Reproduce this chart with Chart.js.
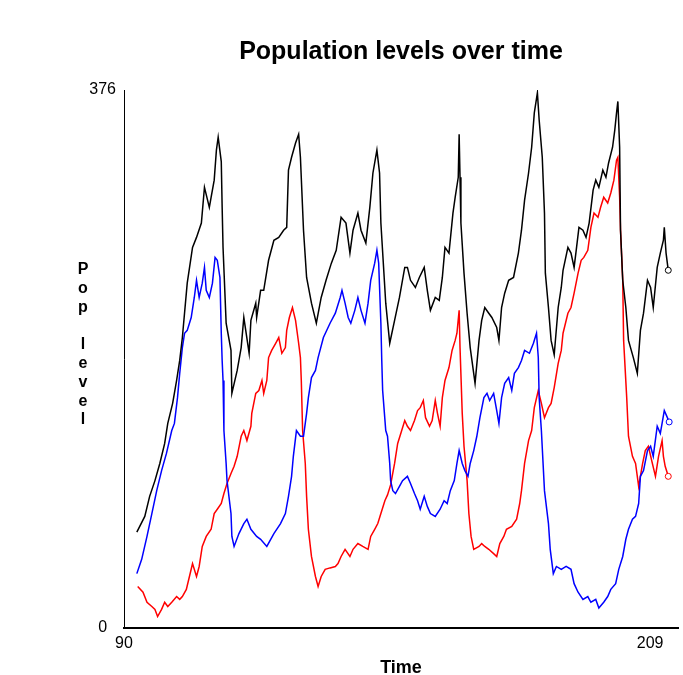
<!DOCTYPE html>
<html>
<head>
<meta charset="utf-8">
<script src="https://cdn.jsdelivr.net/npm/chart.js@4"></script>
<style>
  body { margin: 0; background: #fff; }
  #box { width: 683px; height: 675px; position: relative; }
</style>
</head>
<body>
<div id="box"><canvas id="popChart"></canvas></div>
<script>
// tick labels
const xTicks = [90, 209];
const yTicks = [0, 376];

// series 1 (black)
const blackTime = [92.9, 94.7, 95.8, 97.0, 98.1, 99.2, 99.9, 101.0, 101.9, 102.6, 103.2, 104.3, 105.5, 106.4, 107.5, 108.2, 109.3, 109.7, 110.4, 110.9, 111.3, 112.0, 112.2, 112.4, 113.1, 114.2, 114.4, 115.6, 116.5, 117.1, 118.3, 118.7, 119.8, 120.0, 120.9, 121.6, 122.7, 123.9, 125.0, 126.1, 126.8, 127.2, 127.9, 128.8, 129.5, 129.9, 130.6, 131.3, 132.4, 133.5, 134.6, 135.7, 136.9, 138.0, 139.1, 140.2, 141.1, 141.8, 142.9, 143.6, 144.7, 145.6, 146.3, 147.2, 147.8, 148.1, 149.2, 150.1, 151.2, 152.3, 153.5, 154.1, 154.8, 155.9, 156.8, 157.9, 158.6, 159.3, 160.4, 161.3, 162.0, 162.6, 163.5, 164.4, 164.9, 165.6, 165.8, 166.0, 166.2, 166.9, 167.6, 168.3, 169.4, 170.3, 170.9, 171.6, 172.5, 173.2, 174.3, 174.8, 175.4, 176.1, 177.0, 178.1, 179.2, 179.9, 180.6, 181.5, 182.2, 182.8, 183.5, 183.9, 184.6, 185.1, 185.3, 186.0, 186.6, 187.3, 188.2, 188.9, 189.3, 190.4, 191.1, 191.8, 192.2, 192.9, 193.8, 194.5, 195.2, 196.1, 196.7, 197.4, 198.3, 199.0, 199.6, 200.5, 201.0, 201.4, 201.7, 202.1, 202.3, 202.8, 203.5, 204.1, 205.2, 206.1, 206.8, 207.5, 208.4, 209.1, 209.7, 210.6, 211.3, 212.0, 212.2, 212.6, 213.1];
const blackLevel = [67, 78, 92, 103, 115, 129, 143, 157, 173, 187, 203, 241, 266, 273, 283, 308, 294, 301, 313, 334, 343, 326, 294, 266, 213, 194, 164, 180, 196, 217, 192, 215, 227, 217, 236, 236, 257, 271, 273, 278, 280, 320, 329, 339, 345, 329, 278, 245, 227, 213, 231, 243, 255, 264, 287, 283, 262, 278, 290, 278, 269, 294, 318, 334, 318, 283, 227, 199, 215, 231, 252, 252, 243, 238, 245, 252, 236, 222, 231, 229, 245, 266, 262, 290, 301, 315, 345, 315, 283, 248, 220, 196, 171, 201, 215, 224, 220, 217, 210, 201, 224, 234, 243, 245, 262, 278, 299, 318, 336, 360, 374, 355, 329, 290, 248, 224, 201, 191, 224, 238, 250, 266, 262, 252, 262, 280, 278, 273, 283, 306, 313, 308, 320, 315, 325, 336, 348, 360, 368, 336, 278, 243, 224, 201, 189, 178, 208, 220, 243, 238, 224, 252, 262, 271, 280, 262, 250];

// series 2 (blue)
const blueTime = [92.9, 94.0, 95.2, 96.3, 97.4, 98.5, 99.6, 100.8, 101.4, 102.1, 102.6, 103.2, 103.7, 104.3, 105.2, 105.9, 106.4, 107.0, 107.7, 108.2, 108.6, 109.3, 110.0, 110.6, 111.1, 111.7, 112.0, 112.2, 112.4, 112.6, 113.1, 113.3, 114.2, 114.4, 114.9, 116.0, 117.1, 117.8, 118.7, 120.0, 120.9, 122.3, 123.9, 125.4, 126.5, 127.2, 127.9, 128.3, 129.0, 129.9, 130.6, 131.3, 131.7, 132.4, 133.3, 133.9, 135.1, 136.6, 137.8, 138.9, 139.3, 140.0, 140.7, 141.3, 142.2, 142.9, 143.6, 144.5, 145.2, 145.8, 146.7, 147.2, 147.6, 148.1, 148.3, 148.5, 149.2, 149.6, 150.1, 150.3, 150.8, 151.4, 152.3, 153.0, 154.1, 154.8, 155.7, 156.4, 157.0, 157.9, 158.6, 159.3, 160.4, 161.5, 162.4, 163.1, 163.8, 164.7, 165.3, 165.8, 166.5, 167.1, 167.8, 168.3, 169.1, 169.8, 170.5, 171.4, 172.1, 172.7, 173.6, 174.3, 174.8, 175.4, 176.1, 177.0, 177.7, 178.3, 179.2, 179.9, 180.6, 181.7, 182.6, 183.3, 183.7, 183.9, 184.4, 185.1, 186.0, 186.4, 187.1, 187.8, 188.9, 190.0, 191.1, 191.8, 192.7, 193.8, 194.9, 195.6, 196.7, 197.4, 198.5, 199.4, 200.1, 201.2, 201.9, 202.8, 203.5, 204.1, 205.0, 205.7, 206.4, 206.8, 207.5, 208.4, 209.1, 209.7, 210.6, 211.3, 211.7, 212.2, 212.9, 213.3];
const blueLevel = [38, 48, 64, 80, 96, 110, 122, 138, 143, 161, 178, 196, 206, 208, 217, 231, 243, 231, 241, 252, 236, 231, 241, 259, 257, 245, 206, 187, 173, 138, 115, 103, 80, 64, 57, 66, 73, 76, 69, 64, 62, 57, 66, 73, 80, 92, 106, 120, 138, 134, 134, 150, 161, 175, 180, 189, 203, 213, 220, 231, 236, 227, 217, 213, 222, 231, 222, 213, 227, 243, 255, 264, 255, 213, 187, 166, 138, 134, 115, 103, 96, 94, 99, 103, 106, 101, 94, 89, 83, 92, 85, 80, 78, 83, 89, 87, 96, 103, 115, 124, 115, 110, 106, 115, 124, 134, 147, 161, 164, 159, 164, 152, 143, 161, 171, 175, 166, 178, 182, 187, 194, 192, 199, 206, 189, 161, 138, 96, 73, 55, 38, 43, 41, 43, 41, 31, 25, 20, 22, 18, 20, 14, 18, 22, 27, 31, 41, 50, 62, 69, 76, 78, 87, 106, 110, 124, 127, 120, 141, 136, 143, 152, 147, 144];

// series 3 (red)
const redTime = [93.1, 94.3, 95.2, 96.3, 97.0, 97.6, 98.5, 99.2, 99.9, 100.8, 101.9, 102.6, 103.2, 104.1, 104.8, 105.5, 106.4, 107.0, 107.7, 108.6, 109.7, 110.4, 111.1, 112.0, 112.6, 113.3, 114.2, 114.9, 115.6, 116.5, 117.1, 117.8, 118.7, 118.9, 119.8, 120.5, 121.2, 121.6, 122.3, 122.7, 123.4, 124.3, 125.0, 125.7, 126.5, 126.8, 127.4, 128.1, 128.8, 129.5, 129.9, 130.1, 130.4, 131.0, 131.3, 131.7, 132.4, 133.3, 133.9, 134.6, 135.5, 136.6, 137.8, 138.4, 139.1, 140.0, 141.1, 141.8, 142.9, 144.0, 145.2, 145.8, 146.7, 147.4, 148.1, 149.0, 149.6, 150.3, 151.2, 151.9, 152.6, 153.5, 154.1, 154.8, 155.7, 156.4, 157.0, 157.7, 158.2, 159.1, 159.7, 160.4, 160.9, 161.5, 162.0, 162.6, 163.5, 164.2, 164.9, 165.3, 165.8, 166.0, 166.5, 166.9, 167.6, 168.0, 168.5, 169.1, 170.3, 170.9, 171.6, 172.5, 173.6, 174.3, 175.0, 175.9, 176.5, 177.7, 178.8, 179.5, 179.9, 180.6, 181.5, 182.2, 182.8, 183.7, 184.4, 185.1, 186.0, 186.6, 187.3, 188.2, 188.9, 189.3, 190.4, 191.1, 191.8, 192.7, 193.4, 194.0, 194.9, 195.6, 196.3, 197.2, 197.8, 198.5, 199.4, 200.1, 200.8, 201.4, 201.7, 202.1, 202.3, 202.8, 203.0, 203.7, 204.1, 205.0, 205.7, 206.4, 207.3, 207.9, 208.6, 209.5, 210.2, 210.9, 211.7, 212.0, 212.4, 213.1];
const redLevel = [29, 25, 18, 15, 13, 8, 13, 18, 15, 18, 22, 20, 22, 27, 36, 45, 36, 43, 57, 64, 69, 80, 83, 87, 94, 101, 108, 113, 120, 134, 138, 131, 141, 150, 164, 166, 173, 164, 173, 189, 194, 199, 203, 192, 196, 208, 217, 224, 215, 199, 189, 173, 138, 115, 92, 69, 50, 36, 29, 36, 41, 42, 43, 45, 50, 55, 50, 55, 59, 57, 55, 64, 69, 73, 80, 89, 93, 100, 115, 129, 136, 145, 141, 138, 145, 152, 154, 159, 147, 141, 145, 159, 150, 141, 161, 173, 182, 194, 201, 206, 222, 196, 150, 127, 103, 80, 64, 55, 57, 59, 57, 55, 52, 50, 59, 64, 69, 71, 76, 87, 96, 115, 131, 138, 154, 166, 157, 147, 154, 157, 168, 185, 194, 206, 220, 224, 234, 248, 257, 259, 264, 280, 290, 287, 294, 301, 297, 304, 313, 327, 329, 301, 278, 243, 201, 161, 134, 120, 115, 99, 115, 124, 127, 115, 106, 120, 131, 120, 113, 106];

function pairs(xs, ys) {
    return xs.map((x, i) => ({ x: x, y: ys[i] }));
}

function serie(label, xs, ys, color) {
    const n = xs.length;
    return {
        label: label,
        data: pairs(xs, ys),
        borderColor: color,
        borderWidth: 1.5,
        fill: false,
        tension: 0,
        pointRadius: ctx => ctx.dataIndex === n - 1 ? 3 : 0,
        pointBorderWidth: 1,
        pointBackgroundColor: '#fff',
        pointBorderColor: color
    };
}

// "Pop level" written with stacked letters, left of the y axis
const yLabelPlugin = {
    id: 'yLabel',
    afterDraw(chart) {
        const ctx = chart.ctx;
        const chars = 'Pop level'.split('');
        ctx.save();
        ctx.font = 'bold 16px "Liberation Sans", Arial, sans-serif';
        ctx.fillStyle = '#000';
        ctx.textAlign = 'center';
        ctx.textBaseline = 'middle';
        chars.forEach((c, i) => {
            ctx.fillText(c, 83, 270 + i * 18.75);
        });
        ctx.restore();
    }
};

const ctxPop = document.getElementById('popChart').getContext('2d');
new Chart(ctxPop, {
    type: 'line',
    data: {
        datasets: [
            serie('Black', blackTime, blackLevel, '#000000'),
            serie('Blue', blueTime, blueLevel, '#0000ff'),
            serie('Red', redTime, redLevel, '#ff0000')
        ]
    },
    options: {
        responsive: true,
        maintainAspectRatio: false,
        animation: false,
        layout: { padding: 0 },
        plugins: {
            legend: { display: false },
            tooltip: { enabled: false },
            title: {
                display: true,
                fullSize: false,
                text: 'Population levels over time',
                color: '#000',
                font: { family: '"Liberation Sans", Arial', size: 25, weight: 'bold', lineHeight: 1.2 },
                padding: { top: 37, bottom: 23 }
            }
        },
        scales: {
            x: {
                type: 'linear',
                min: 90,
                max: 215.3,
                grid: { display: false, drawTicks: false },
                border: { color: '#000', width: 2 },
                afterBuildTicks: s => { s.ticks = xTicks.map(v => ({ value: v })); },
                afterFit: s => { s.height = 47; },
                ticks: {
                    color: '#000',
                    padding: 6,
                    maxRotation: 0,
                    font: { family: '"Liberation Sans", Arial', size: 16 }
                },
                title: {
                    display: true,
                    text: 'Time',
                    color: '#000',
                    font: { family: '"Liberation Sans", Arial', size: 18, weight: 'bold', lineHeight: 1 },
                    padding: { top: 0, bottom: -2 }
                }
            },
            y: {
                min: 0,
                max: 376,
                grid: { display: false, drawTicks: false },
                border: { color: '#000', width: 1 },
                afterBuildTicks: s => { s.ticks = yTicks.map(v => ({ value: v })); },
                afterFit: s => { s.width = 124; },
                ticks: {
                    color: '#000',
                    padding: 8,
                    crossAlign: 'center',
                    font: { family: '"Liberation Sans", Arial', size: 16 }
                }
            }
        }
    },
    plugins: [yLabelPlugin]
});
</script>
</body>
</html>
